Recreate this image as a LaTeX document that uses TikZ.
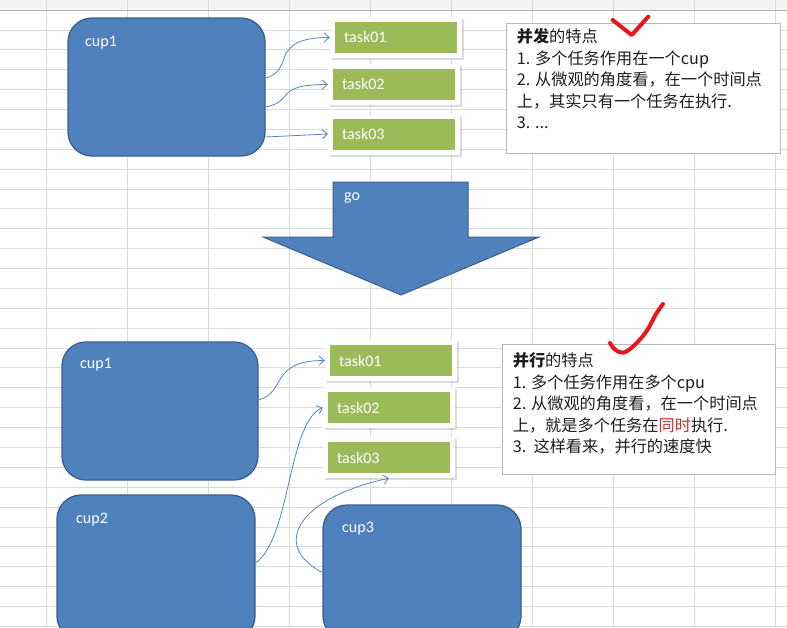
\documentclass[tikz,border=0pt]{standalone}
\usepackage{fontspec}
\setmainfont{Carlito}
\newfontfamily\cjk{Noto Sans CJK SC}
\usetikzlibrary{arrows.meta,shadows}

\definecolor{cupblue}{HTML}{4F81BD}
\definecolor{cupedge}{HTML}{3A5F8C}
\definecolor{taskgreen}{HTML}{9BBB59}
\definecolor{linkblue}{HTML}{5585C0}
\definecolor{gridgray}{HTML}{DADADA}
\definecolor{headgray}{HTML}{F3F3F3}
\definecolor{textdark}{HTML}{1E1E1E}
\definecolor{checkred}{HTML}{E8161B}
\definecolor{hotred}{HTML}{C8302C}

\begin{document}
\begin{tikzpicture}[x=1pt,y=-1pt,
  gridline/.style={draw=gridgray, line width=0.7pt},
  cup/.style={draw=cupedge, line width=1.3pt, fill=cupblue, rounded corners=24pt, inner sep=0pt},
  cuplabel/.style={text=white, font=\fontsize{16}{18}\selectfont, anchor=west, inner sep=0pt},
  task/.style={fill=white, minimum width=132pt, minimum height=41pt,
    inner xsep=14pt, inner ysep=0pt, text width=104pt, align=left,
    text=white, font=\fontsize{16}{18}\selectfont,
    drop shadow={shadow xshift=1.5pt, shadow yshift=-2pt, opacity=0.28},
    path picture={\fill[taskgreen]
      ([shift={(5pt,-5pt)}]path picture bounding box.north west) rectangle
      ([shift={(-5pt,5pt)}]path picture bounding box.south east);}},
  link/.style={draw=linkblue, line width=0.8pt, -{Straight Barb[length=5pt,width=9pt]}},
  notebox/.style={draw=gray!55, line width=0.8pt, fill=white, minimum width=274pt, minimum height=130pt, inner sep=0pt},
  notetext/.style={font=\cjk\fontsize{16.2}{21.5}\selectfont, anchor=north west, inner sep=0pt, align=left, text=textdark},
  check/.style={draw=checkred, line width=4pt, line cap=round, line join=round},
  bigarrow/.style={fill=cupblue, draw=cupedge, line width=1pt}
]
\useasboundingbox (0,0) rectangle (787,627);
\fill[white] (0,0) rectangle (787,627);

% spreadsheet background
\fill[headgray] (0,0) rectangle (787,10);
\foreach \k in {0,...,9} \draw[gridline] ({46+81*\k},0) -- ({46+81*\k},627);
\foreach \k in {0,...,31} \draw[gridline] (0,{10+19.88*\k}) -- (787,{10+19.88*\k});
\draw[draw=gray!60, line width=0.7pt] (0,10) -- (787,10);

% ---- concurrency: one cpu, three tasks ----
\node[cup, minimum width=197pt, minimum height=138pt] (c1) at (166.5,87) {};
\node[cuplabel] (c1l) at (85,43) {cup1};

\node[task] (t1) at (396,37.5) {task01};
\node[task] (t2) at (394,84.5) {task02};
\node[task] (t3) at (394,134) {task03};

\draw[link] ([yshift=9pt]c1.east) .. controls +(30,-8) and +(-62,0) .. (t1.west);
\draw[link] ([yshift=-20pt]c1.east) .. controls +(30,-6) and +(-55,0) .. (t2.west);
\draw[link] ([yshift=-50pt]c1.east) -- (t3.west);

\node[notebox] (n1) at (643,88) {};
\node[notetext] (n1t) at ([shift={(11pt,-6pt)}]n1.north west)
  {\textbf{并发}的特点\\
   1. 多个任务作用在一个cup\\
   2. 从微观的角度看，在一个时间点\\
   上，其实只有一个任务在执行.\\
   3. ...};
\draw[check] (612.7,20) -- (631.7,35) -- (648.3,16.7);

% ---- the big arrow ----
\path[bigarrow] (333,182) -- (468,182) -- (468,237) -- (539,237) -- (401,295)
  -- (263,237) -- (333,237) -- cycle;
\node[cuplabel] (go) at (344,198) {go};

% ---- parallelism: three cpus ----
\node[cup, minimum width=196pt, minimum height=138pt] (d1) at (160,411) {};
\node[cuplabel] (d1l) at (80,365) {cup1};
\node[cup, minimum width=198pt, minimum height=145pt] (d2) at (156,567.5) {};
\node[cuplabel] (d2l) at (76,520) {cup2};
\node[cup, minimum width=198pt, minimum height=135pt] (d3) at (422,572.5) {};
\node[cuplabel] (d3l) at (342,529) {cup3};

\node[task] (b1) at (391,360.5) {task01};
\node[task] (b2) at (389,407.5) {task02};
\node[task] (b3) at (389,457.5) {task03};

\draw[link] ([yshift=11pt]d1.east) .. controls +(28,-8) and +(-55,0) .. (b1.west);
\draw[link] ([yshift=4.5pt]d2.east) .. controls +(35,-25) and +(-35,15) .. (b2.west);
\draw[link] (d3.west) .. controls +(-53,-28) and +(-89,19) .. (b3.south);

\node[notebox, minimum width=273pt] (n2) at (638.5,409) {};
\node[notetext] (n2t) at ([shift={(11pt,-9pt)}]n2.north west)
  {\textbf{并行}的特点\\
   1. 多个任务作用在多个cpu\\
   2. 从微观的角度看，在一个时间点\\
   上，就是多个任务在\textcolor{hotred}{同时}执行.\\
   3.\ \ 这样看来，并行的速度快};
\draw[check] plot[smooth, tension=0.6] coordinates
  {(610,343) (615,349.5) (623,352.7) (633,346.5) (646,332) (656,314) (663,304)};
\end{tikzpicture}
\end{document}
